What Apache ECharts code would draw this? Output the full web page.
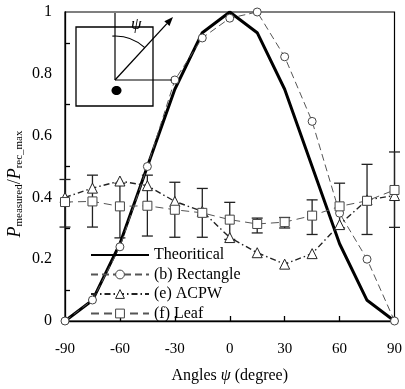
<!DOCTYPE html>
<html>
<head>
<meta charset="utf-8">
<script src="https://cdn.jsdelivr.net/npm/echarts@6/dist/echarts.min.js"></script>
<style>
html,body{margin:0;padding:0;background:#fff;}
#chart{width:405px;height:389px;}
</style>
</head>
<body>
<div id="chart"></div>
<script>
var angles = [-90, -75, -60, -45, -30, -15, 0, 15, 30, 45, 60, 75, 90];
var theoretical = [0, 0.067, 0.25, 0.5, 0.75, 0.933, 1, 0.933, 0.75, 0.5, 0.25, 0.067, 0];
var rectangle = [0, 0.068, 0.24, 0.5, 0.78, 0.916, 0.98, 1.0, 0.855, 0.646, 0.349, 0.2, 0];
var acpw = [0.40, 0.43, 0.453, 0.438, 0.387, 0.355, 0.27, 0.221, 0.184, 0.218, 0.312, 0.392, 0.406];
var leaf = [0.385, 0.387, 0.371, 0.373, 0.36, 0.35, 0.328, 0.314, 0.32, 0.341, 0.371, 0.389, 0.424];
var leafLow = [0.304, 0.304, 0.269, 0.275, 0.271, 0.271, 0.264, 0.285, 0.301, 0.28, 0.301, 0.28, 0.303];
var leafHigh = [0.458, 0.472, 0.446, 0.472, 0.449, 0.429, 0.384, 0.333, 0.335, 0.392, 0.446, 0.507, 0.547];
var seriesNames = ['Theoritical', '(b) Rectangle', '(e) ACPW', '(f) Leaf'];

function pairs(vals) { return angles.map(function (a, i) { return [a, vals[i]]; }); }
var errData = angles.map(function (a, i) { return [a, leafLow[i], leafHigh[i]]; });

var FONT = 'Liberation Serif';
var chart = echarts.init(document.getElementById('chart'));

var ux = 58 / Math.sqrt(58 * 58 + 63 * 63), uy = -63 / Math.sqrt(58 * 58 + 63 * 63);
var tipX = 173, tipY = 17, alen = 9, aw = 3.5;
var bx = tipX - alen * ux, by = tipY - alen * uy;

chart.setOption({
  animation: false,
  backgroundColor: '#fff',
  grid: { left: 65, right: 10, top: 12, bottom: 65, show: true, borderColor: '#000', borderWidth: 1.2, backgroundColor: 'transparent' },
  legend: {
    data: [
      { name: seriesNames[0], itemStyle: { opacity: 0 } },
      seriesNames[1], seriesNames[2], seriesNames[3]
    ],
    orient: 'vertical',
    left: 85, top: 242,
    itemWidth: 58, itemHeight: 11, itemGap: 3.5,
    itemStyle: { borderWidth: 1 },
    textStyle: { fontFamily: FONT, fontSize: 16, color: '#000' }
  },
  xAxis: {
    type: 'value', min: -90, max: 90, interval: 30,
    axisLine: { onZero: false, lineStyle: { color: '#000', width: 1.3 } },
    axisTick: { inside: true, length: 5, lineStyle: { color: '#000', width: 1.3 } },
    splitLine: { show: false },
    axisLabel: { color: '#000', fontFamily: FONT, fontSize: 15, margin: 21 },
    name: 'Angles {i|ψ} (degree)',
    nameLocation: 'middle', nameGap: 47,
    nameTextStyle: { color: '#000', fontFamily: FONT, fontSize: 16,
      rich: { i: { fontStyle: 'italic', fontFamily: FONT, fontSize: 16, color: '#000' } } }
  },
  yAxis: {
    type: 'value', min: 0, max: 1, interval: 0.2,
    axisLine: { show: true, onZero: false, lineStyle: { color: '#000', width: 1.3 } },
    axisTick: { show: false, inside: true },
    minorTick: { show: true, splitNumber: 2, length: 5, lineStyle: { color: '#000', width: 1.3 } },
    splitLine: { show: false },
    minorSplitLine: { show: false },
    axisLabel: { color: '#000', fontFamily: FONT, fontSize: 16, margin: 13 }
  },
  series: [
    {
      type: 'custom', name: 'err', data: errData, z: 1, silent: true,
      renderItem: function (params, api) {
        var x = api.value(0);
        var lo = api.coord([x, api.value(1)]);
        var hi = api.coord([x, api.value(2)]);
        var hw = 5.5;
        var st = { stroke: '#222', lineWidth: 1.3 };
        return { type: 'group', children: [
          { type: 'line', shape: { x1: lo[0], y1: lo[1], x2: hi[0], y2: hi[1] }, style: st },
          { type: 'line', shape: { x1: lo[0] - hw, y1: lo[1], x2: lo[0] + hw, y2: lo[1] }, style: st },
          { type: 'line', shape: { x1: hi[0] - hw, y1: hi[1], x2: hi[0] + hw, y2: hi[1] }, style: st }
        ] };
      }
    },
    {
      type: 'line', name: seriesNames[0], data: pairs(theoretical), z: 3,
      symbol: 'none', lineStyle: { color: '#000', width: 3 }, itemStyle: { color: '#000' }
    },
    {
      type: 'line', name: seriesNames[1], data: pairs(rectangle), z: 4,
      symbol: 'circle', symbolSize: 8,
      lineStyle: { color: '#555', width: 1, type: [7, 4] },
      itemStyle: { color: '#fff', borderColor: '#444', borderWidth: 1 }
    },
    {
      type: 'line', name: seriesNames[2], data: pairs(acpw), z: 4,
      symbol: 'triangle', symbolSize: 10,
      lineStyle: { color: '#222', width: 1.4, type: [6, 3, 1.5, 3] },
      itemStyle: { color: '#fff', borderColor: '#222', borderWidth: 1 }
    },
    {
      type: 'line', name: seriesNames[3], data: pairs(leaf), z: 4,
      symbol: 'rect', symbolSize: 9,
      lineStyle: { color: '#555', width: 1, type: [8, 5] },
      itemStyle: { color: '#fff', borderColor: '#444', borderWidth: 1 }
    }
  ],
  graphic: [
    { type: 'text', x: 15, y: 184, rotation: Math.PI / 2, z: 10,
      style: {
        text: '{P|P}{s|measured}{n|/}{P|P}{s|rec_max}',
        align: 'center', verticalAlign: 'middle', fill: '#000',
        rich: {
          P: { fontStyle: 'italic', fontSize: 18, fontFamily: FONT, fill: '#000', verticalAlign: 'top', lineHeight: 18 },
          n: { fontSize: 18, fontFamily: FONT, fill: '#000', verticalAlign: 'top', lineHeight: 18 },
          s: { fontSize: 11, fontFamily: FONT, fill: '#000', verticalAlign: 'top', lineHeight: 11, padding: [8, 0, 0, 0] }
        }
      } },
    { type: 'rect', shape: { x: 76, y: 27, width: 77, height: 79 }, style: { fill: 'transparent', stroke: '#000', lineWidth: 1.3 }, z: 10 },
    { type: 'line', shape: { x1: 115, y1: 13, x2: 115, y2: 80 }, style: { stroke: '#000', lineWidth: 1.2 }, z: 10 },
    { type: 'line', shape: { x1: 115, y1: 80, x2: 172, y2: 80 }, style: { stroke: '#000', lineWidth: 1.2 }, z: 10 },
    { type: 'line', shape: { x1: 115, y1: 80, x2: bx, y2: by }, style: { stroke: '#000', lineWidth: 1.3 }, z: 10 },
    { type: 'polygon', shape: { points: [[tipX, tipY], [bx + aw * (-uy), by + aw * ux], [bx - aw * (-uy), by - aw * ux]] }, style: { fill: '#000' }, z: 10 },
    { type: 'arc', shape: { cx: 115, cy: 80, r: 44, startAngle: -Math.PI / 2 - 0.06, endAngle: Math.atan2(-63, 58), clockwise: true }, style: { stroke: '#000', lineWidth: 1.2, fill: 'none' }, z: 10 },
    { type: 'text', x: 131, y: 16, style: { text: 'ψ', font: 'italic 17px "Liberation Serif"', fill: '#000' }, z: 10 },
    { type: 'ellipse', shape: { cx: 116.5, cy: 90.5, rx: 5, ry: 4.5 }, style: { fill: '#000' }, z: 10 }
  ]
});
</script>
</body>
</html>
